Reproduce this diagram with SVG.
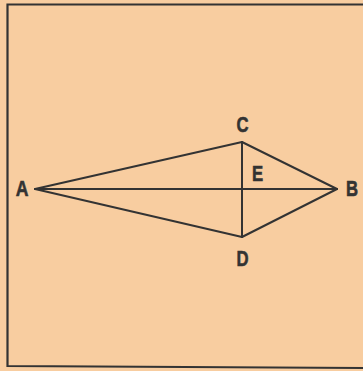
<svg xmlns="http://www.w3.org/2000/svg" width="363" height="371" viewBox="0 0 363 371">
<style>
.ln{stroke:#333;stroke-width:2;fill:none;stroke-linecap:round;stroke-linejoin:round}
.fr{stroke:#333;stroke-width:2.2;fill:none}
.lb{font-family:"Liberation Sans",Arial,sans-serif;font-weight:bold;font-size:22px;fill:#333;stroke:#333;stroke-width:0.6;text-anchor:middle}
</style>
<rect width="363" height="371" fill="#F8CDA0"/>
<path class="fr" d="M365 4.5 L7.5 4.5 L7.5 366 L365 368"/>
<g id="connectors">
<line class="ln" x1="35" y1="189" x2="337" y2="189"/>
<line class="ln" x1="35" y1="189" x2="242" y2="142"/>
<line class="ln" x1="35" y1="189" x2="242" y2="237"/>
<line class="ln" x1="242" y1="142" x2="337" y2="189"/>
<line class="ln" x1="242" y1="237" x2="337" y2="189"/>
<line class="ln" x1="242" y1="142" x2="242" y2="237"/>
</g>
<g id="A"><text class="lb" transform="translate(22,196) scale(0.8,1)">A</text></g>
<g id="B"><text class="lb" transform="translate(352,196) scale(0.76,1)">B</text></g>
<g id="C"><text class="lb" transform="translate(242.5,131.5) scale(0.76,1)">C</text></g>
<g id="D"><text class="lb" transform="translate(242.5,266) scale(0.76,1)">D</text></g>
<g id="E"><text class="lb" transform="translate(257.5,181) scale(0.76,1)">E</text></g>
</svg>
